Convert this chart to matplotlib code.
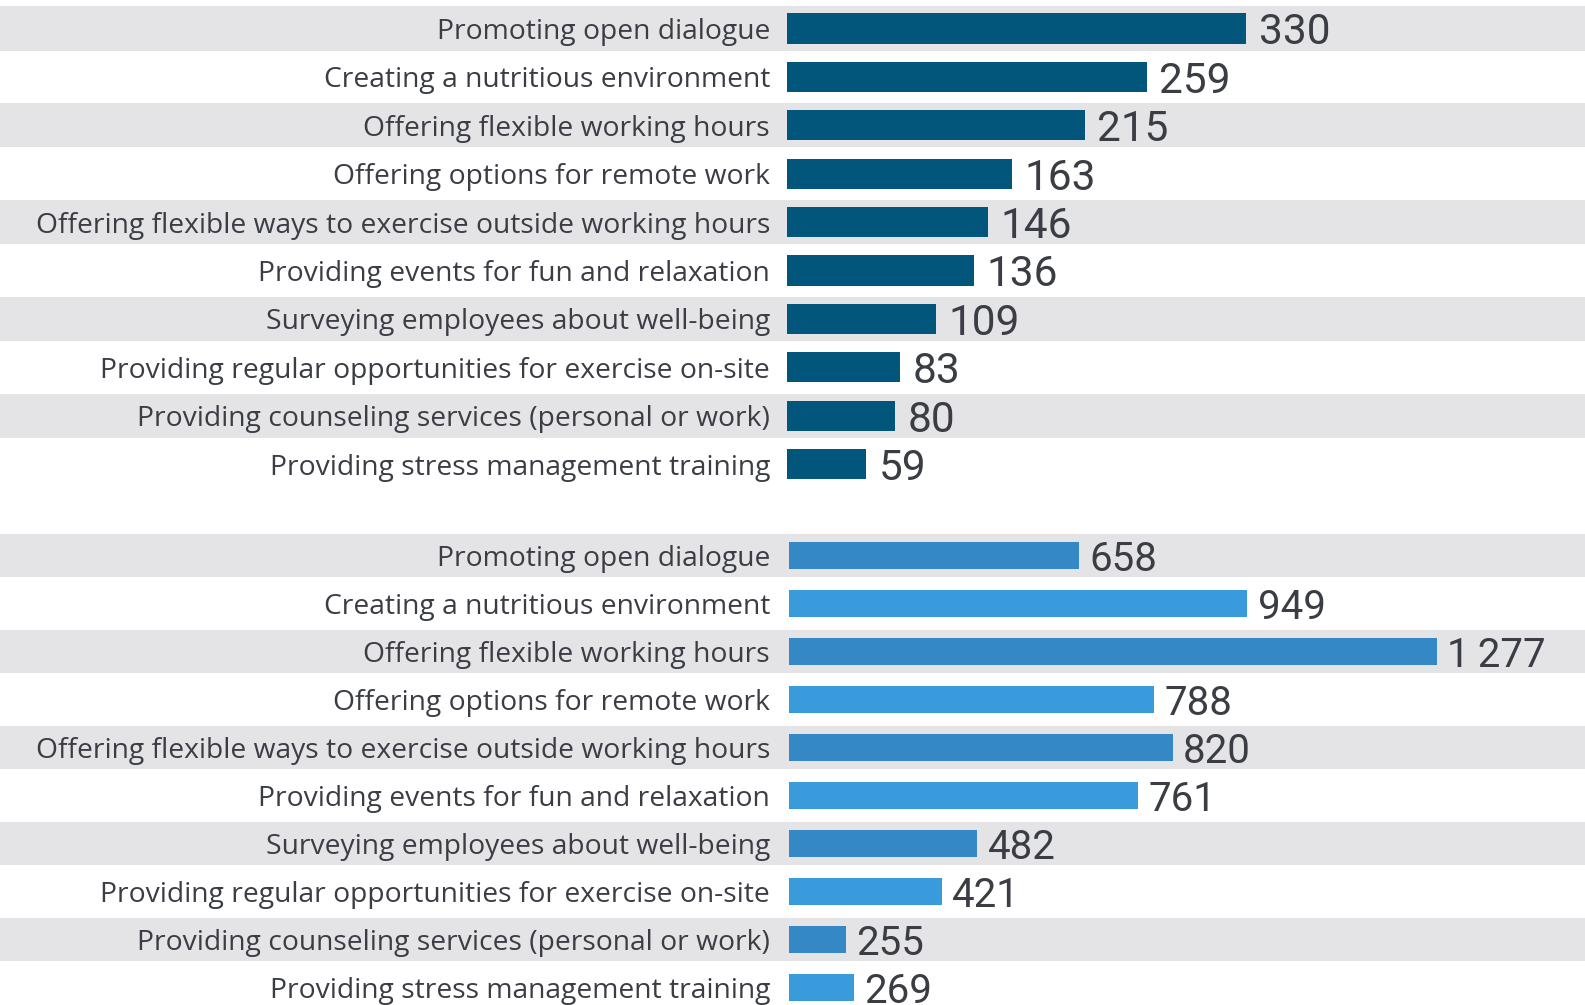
import matplotlib
matplotlib.use('Agg')
import matplotlib.pyplot as plt
from matplotlib.patches import Rectangle
from matplotlib.transforms import blended_transform_factory

categories = [
    "Promoting open dialogue",
    "Creating a nutritious environment",
    "Offering flexible working hours",
    "Offering options for remote work",
    "Offering flexible ways to exercise outside working hours",
    "Providing events for fun and relaxation",
    "Surveying employees about well-being",
    "Providing regular opportunities for exercise on-site",
    "Providing counseling services (personal or work)",
    "Providing stress management training",
]
top_values = [330, 259, 215, 163, 146, 136, 109, 83, 80, 59]
bottom_values = [658, 949, 1277, 788, 820, 761, 482, 421, 255, 269]

W, H = 1585, 1005
fig = plt.figure(figsize=(W / 100, H / 100), dpi=100)
fig.patch.set_facecolor('white')

LABEL_FONT = ['Open Sans', 'DejaVu Sans']
VALUE_FONT = ['Roboto', 'DejaVu Sans']
TEXT_COLOR = '#3b3d45'
STRIPE = '#e4e4e7'
TOP_COLOR = '#02557b'
BOT_DARK = '#3388c5'
BOT_LIGHT = '#399bdb'

# determine label font size so the longest label is ~733 px wide
renderer = fig.canvas.get_renderer()
longest = max(categories, key=len)
t = fig.text(0, 0, longest, fontsize=20, family=LABEL_FONT)
w = t.get_window_extent(renderer).width
label_fs = 20 * 733 / w
t.remove()

n = len(categories)


def px_axes(left, right, top, bottom):
    return fig.add_axes([left / W, 1 - bottom / H, (right - left) / W, (bottom - top) / H])


def fmt(v):
    s = f"{v:,}"
    return s.replace(",", "\u2009")


def panel(ax, values, colors, bar_h, xmin, scale, left_px, label_right_px, vfs, voff):
    ax.set_ylim(n - 0.5, -0.5)
    ax.set_xlim(xmin, xmin + (W - left_px) / scale)
    ax.patch.set_visible(False)
    for s in ax.spines.values():
        s.set_visible(False)
    tr = blended_transform_factory(fig.transFigure, ax.transData)
    for i in range(0, n, 2):
        r = Rectangle((0, i - 0.455), 1, 0.91, transform=tr, facecolor=STRIPE,
                      edgecolor='none', clip_on=False, zorder=0)
        ax.add_artist(r)
    ax.barh(range(n), values, height=bar_h, color=colors, zorder=2)
    for i, v in enumerate(values):
        ax.annotate(fmt(v), (v, i), xytext=(voff, 0), textcoords='offset points',
                    ha='left', va='center_baseline', fontsize=vfs,
                    family=VALUE_FONT, color=TEXT_COLOR, zorder=3)
    ax.set_yticks(range(n))
    ax.set_yticklabels(categories, fontsize=label_fs, family=LABEL_FONT, color=TEXT_COLOR)
    ax.tick_params(axis='y', length=0, pad=(left_px - label_right_px) * 0.72)
    ax.set_xticks([])


# top panel
pitch_t, c0_t = 48.4, 28.5
ax1 = px_axes(786.5, W, c0_t - pitch_t / 2, c0_t + pitch_t * (n - 0.5))
panel(ax1, top_values, [TOP_COLOR] * n, 0.62, 2.4, 1.404, 786.5, 770, 30.5, 9)

# bottom panel
pitch_b, c0_b = 48.0, 555.5
ax2 = px_axes(788.6, W, c0_b - pitch_b / 2, c0_b + pitch_b * (n - 0.5))
panel(ax2, bottom_values, [BOT_DARK if i % 2 == 0 else BOT_LIGHT for i in range(n)],
      0.55, 155.7, 0.578, 788.6, 770, 29, 7.5)

fig.savefig('out.png', dpi=100, facecolor='white')
